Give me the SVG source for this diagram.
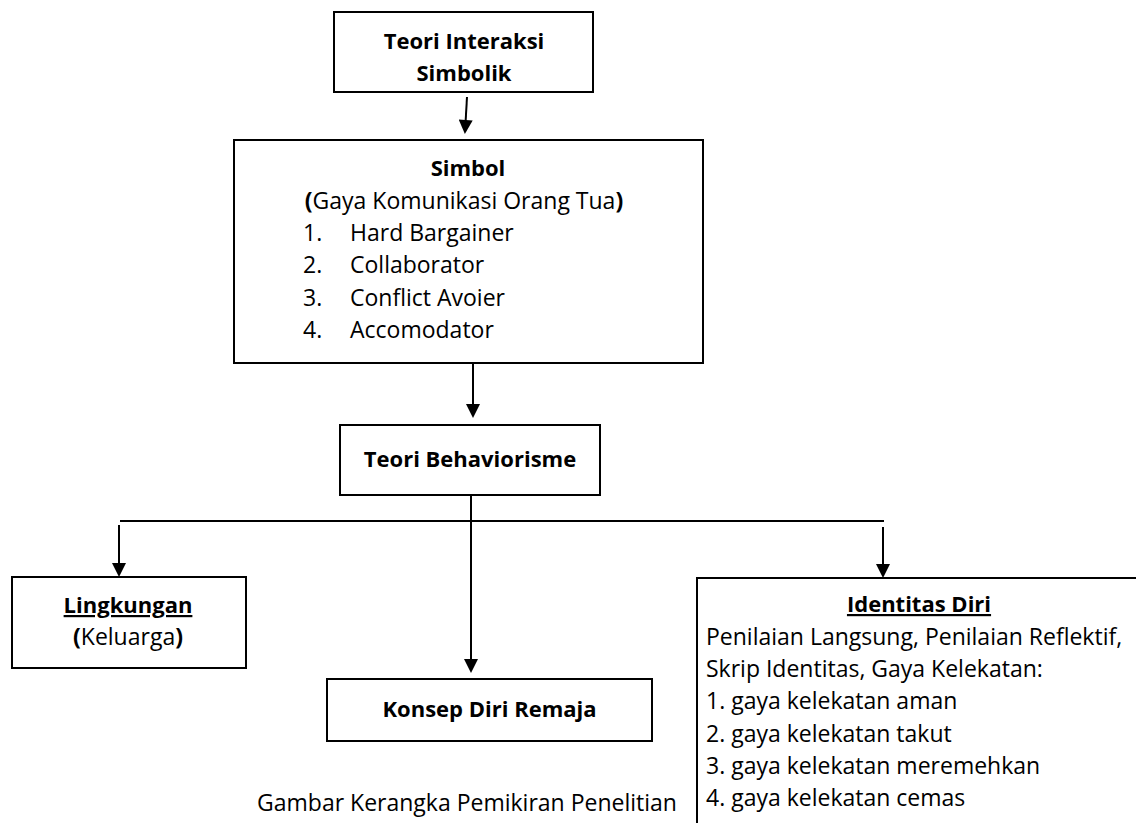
<svg xmlns="http://www.w3.org/2000/svg" width="1136" height="823" viewBox="0 0 1136 823">
<style>
  .box { fill: #fff; stroke: #000; stroke-width: 2; }
  .edge { fill: none; stroke: #000; stroke-width: 2; }
  text { font-family: "Open Sans", "Noto Sans", "Liberation Sans", sans-serif; fill: #000; }
  .b { font-size: 22px; font-weight: 700; }
  .r { font-size: 23px; font-weight: 400; }
  .bp { font-weight: 700; }
  .u { text-decoration: underline; }
  .c { text-anchor: middle; }
</style>
<defs>
  <marker id="arrow" viewBox="0 0 10 10" refX="8.6" refY="5" markerWidth="15" markerHeight="14" markerUnits="userSpaceOnUse" orient="auto">
    <path d="M0,0 L10,5 L0,10 z" fill="#000"/>
  </marker>
</defs>
<rect width="1136" height="823" fill="#fff"/>

<g id="connectors">
  <line class="edge" x1="467" y1="97" x2="465" y2="132" marker-end="url(#arrow)"/>
  <line class="edge" x1="473" y1="363" x2="473" y2="416" marker-end="url(#arrow)"/>
  <line class="edge" x1="120" y1="521" x2="884" y2="521"/>
  <line class="edge" x1="119" y1="525" x2="119" y2="575" marker-end="url(#arrow)"/>
  <line class="edge" x1="471" y1="495" x2="471" y2="671" marker-end="url(#arrow)"/>
  <line class="edge" x1="883" y1="527" x2="883" y2="576" marker-end="url(#arrow)"/>
</g>

<g id="node-interaksi">
  <rect class="box" x="334" y="12" width="259" height="80"/>
  <text class="b c" x="464" y="49">Teori Interaksi</text>
  <text class="b c" x="464" y="81">Simbolik</text>
</g>

<g id="node-simbol">
  <rect class="box" x="234" y="140" width="469" height="223"/>
  <text class="b c" x="468" y="176">Simbol</text>
  <text class="r c" x="464" y="209"><tspan class="bp">(</tspan>Gaya Komunikasi Orang Tua<tspan class="bp">)</tspan></text>
  <text class="r" x="303" y="241">1.</text><text class="r" x="350" y="241">Hard Bargainer</text>
  <text class="r" x="303" y="273">2.</text><text class="r" x="350" y="273">Collaborator</text>
  <text class="r" x="303" y="306">3.</text><text class="r" x="350" y="306">Conflict Avoier</text>
  <text class="r" x="303" y="338">4.</text><text class="r" x="350" y="338">Accomodator</text>
</g>

<g id="node-behaviorisme">
  <rect class="box" x="340" y="425" width="260" height="70"/>
  <text class="b c" x="470" y="467">Teori Behaviorisme</text>
</g>

<g id="node-lingkungan">
  <rect class="box" x="12" y="577" width="234" height="91"/>
  <text class="b c u" x="128" y="613">Lingkungan</text>
  <text class="r c" x="128" y="645"><tspan class="bp">(</tspan>Keluarga<tspan class="bp">)</tspan></text>
</g>

<g id="node-konsep">
  <rect class="box" x="327" y="679" width="325" height="62"/>
  <text class="b c" x="489.5" y="717">Konsep Diri Remaja</text>
</g>

<g id="node-identitas">
  <rect class="box" x="697" y="578" width="500" height="300"/>
  <text class="b c u" x="919" y="612">Identitas Diri</text>
  <text class="r" x="706" y="645">Penilaian Langsung, Penilaian Reflektif,</text>
  <text class="r" x="706" y="677">Skrip Identitas, Gaya Kelekatan:</text>
  <text class="r" x="706" y="709">1. gaya kelekatan aman</text>
  <text class="r" x="706" y="742">2. gaya kelekatan takut</text>
  <text class="r" x="706" y="774">3. gaya kelekatan meremehkan</text>
  <text class="r" x="706" y="806">4. gaya kelekatan cemas</text>
</g>

<g id="caption">
  <text class="r c" x="467" y="811">Gambar Kerangka Pemikiran Penelitian</text>
</g>
</svg>
